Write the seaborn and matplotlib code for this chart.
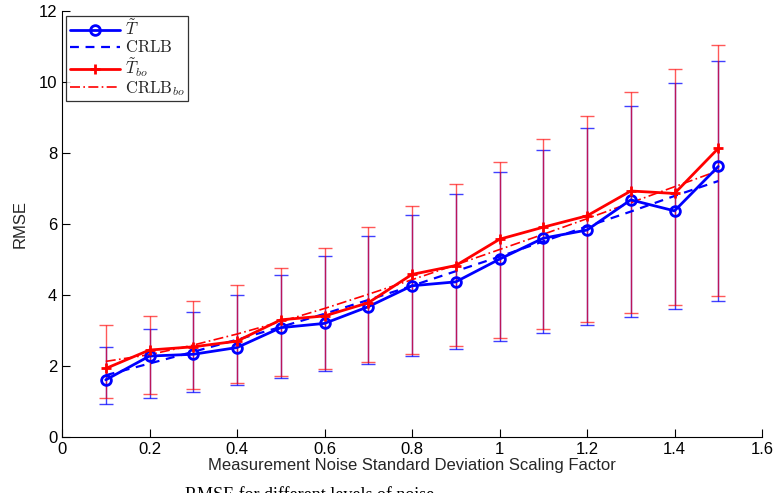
import numpy as np
import pandas as pd
import matplotlib
matplotlib.use("Agg")
import matplotlib.pyplot as plt
import seaborn as sns

# Noise scaling factors
scale = [0.1, 0.2, 0.3, 0.4, 0.5, 0.6, 0.7, 0.8, 0.9, 1.0, 1.1, 1.2, 1.3, 1.4, 1.5]

# RMSE of the estimators
rmse_t = [1.61, 2.28, 2.33, 2.52, 3.08, 3.20, 3.67, 4.26, 4.37, 5.01, 5.60, 5.83, 6.68, 6.37, 7.62]
rmse_tbo = [1.93, 2.45, 2.54, 2.70, 3.30, 3.41, 3.78, 4.58, 4.83, 5.57, 5.91, 6.23, 6.93, 6.86, 8.13]

# Cramer-Rao lower bounds
crlb = [1.74, 2.07, 2.40, 2.74, 3.10, 3.47, 3.86, 4.26, 4.67, 5.08, 5.51, 5.93, 6.35, 6.79, 7.21]
crlb_bo = [2.13, 2.32, 2.59, 2.90, 3.25, 3.62, 4.02, 4.43, 4.85, 5.28, 5.71, 6.15, 6.60, 7.05, 7.50]

# Spread (half-width of the error bars around each bound)
spread = [0.80, 0.96, 1.12, 1.27, 1.45, 1.62, 1.79, 1.99, 2.18, 2.38, 2.58, 2.78, 2.97, 3.18, 3.38]
spread_bo = [1.02, 1.10, 1.23, 1.37, 1.52, 1.70, 1.90, 2.08, 2.29, 2.48, 2.68, 2.90, 3.11, 3.33, 3.54]

df = pd.DataFrame({
    "scale": scale, "T": rmse_t, "Tbo": rmse_tbo,
    "CRLB": crlb, "CRLBbo": crlb_bo,
})

sns.set_theme(style="ticks")
plt.rcParams["font.family"] = ["Liberation Sans", "DejaVu Sans"]
plt.rcParams["mathtext.fontset"] = "cm"

fig = plt.figure(figsize=(7.78, 4.93), dpi=100)
ax = fig.add_axes([62 / 778, 1 - 437 / 493, 700 / 778, 426 / 493])

# Error bars around the bounds
ax.errorbar(df["scale"], df["CRLB"], yerr=spread, fmt="none", ecolor="blue",
            elinewidth=1.0, capsize=5.0, capthick=1.0, alpha=0.75, zorder=2)
ax.errorbar(df["scale"], df["CRLBbo"], yerr=spread_bo, fmt="none", ecolor="red",
            elinewidth=1.0, capsize=5.0, capthick=1.0, alpha=0.65, zorder=2)

sns.lineplot(data=df, x="scale", y="T", ax=ax, color="blue", lw=2.0,
             marker="o", markersize=7, markerfacecolor="none",
             markeredgecolor="blue", markeredgewidth=2.0,
             label=r"$\tilde{T}$", zorder=4)
sns.lineplot(data=df, x="scale", y="CRLB", ax=ax, color="blue", lw=1.6,
             linestyle=(0, (4, 3)), label=r"$\mathrm{CRLB}$", zorder=3)
sns.lineplot(data=df, x="scale", y="Tbo", ax=ax, color="red", lw=2.0,
             marker="+", markersize=7, markeredgewidth=2.0,
             markeredgecolor="red", label=r"$\tilde{T}_{bo}$", zorder=4)
sns.lineplot(data=df, x="scale", y="CRLBbo", ax=ax, color="red", lw=1.2,
             linestyle=(0, (6, 2, 1, 2)), label=r"$\mathrm{CRLB}_{bo}$", zorder=3)

ax.set_xlim(0, 1.6)
ax.set_ylim(0, 12)
ax.set_xticks(np.arange(0, 1.61, 0.2))
ax.set_xticklabels(["0", "0.2", "0.4", "0.6", "0.8", "1", "1.2", "1.4", "1.6"])
ax.set_yticks(np.arange(0, 13, 2))
ax.tick_params(direction="in", length=6, width=0.8, labelsize=12, colors="black")
for side in ("top", "right"):
    ax.spines[side].set_visible(False)
for side in ("left", "bottom"):
    ax.spines[side].set_linewidth(0.8)
    ax.spines[side].set_color("black")

ax.set_xlabel("Measurement Noise Standard Deviation Scaling Factor", fontsize=12, labelpad=1)
ax.set_ylabel("RMSE", fontsize=12, labelpad=8)

leg = ax.legend(loc="upper left", bbox_to_anchor=(0.006, 0.988), fontsize=12,
                frameon=True, fancybox=False, handlelength=3.0,
                handletextpad=0.3, borderpad=0.2, labelspacing=0.0,
                borderaxespad=0.0)
leg.get_frame().set_edgecolor("black")
leg.get_frame().set_linewidth(0.9)
for t in leg.get_texts():
    t.set_family("serif")

# Figure caption running along the lower edge
fig.text(185 / 778, 1 - 487 / 493, "RMSE for different levels of noise",
         ha="left", va="top", fontsize=13, family="Liberation Serif", color="black")

fig.savefig("out.png", dpi=100)
